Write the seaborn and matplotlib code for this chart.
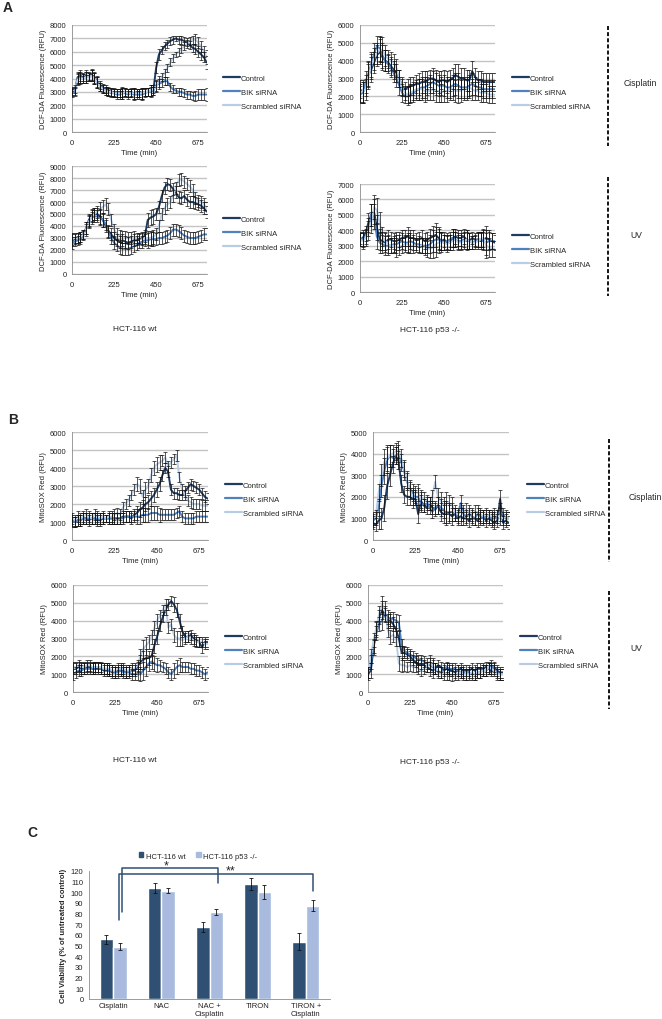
import numpy as np
import pandas as pd
import matplotlib
matplotlib.use('Agg')
import matplotlib.pyplot as plt
import seaborn as sns
from matplotlib.ticker import MultipleLocator
from matplotlib.lines import Line2D
from matplotlib.patches import Patch

W, H = 662, 1020

# sampling times (min), every 15 min
TIME = list(range(0, 721, 15))
SERIES = ['Control', 'BIK siRNA', 'Scrambled siRNA']
COLORS = ['#1f3b60', '#4f81bd', '#b8cce4']

# all kinetics values below are in units of 100 RFU
# A - DCF-DA, HCT-116 wt, cisplatin
a_wt_cis_ctrl = [30, 31, 41, 42, 41, 42, 42, 43, 41, 38, 35, 33, 32, 31, 30, 30, 29, 29, 30, 30,
                 29, 30, 29, 29, 29, 29, 30, 30, 31, 31, 48, 58, 61, 64, 66, 68, 69, 70, 69, 69,
                 68, 67, 65, 63, 62, 60, 58, 56, 52]
a_wt_cis_bik = [29, 30, 40, 41, 40, 41, 41, 42, 40, 37, 34, 32, 31, 30, 29, 29, 28, 28, 29, 29,
                28, 29, 28, 28, 28, 28, 29, 30, 30, 31, 35, 36, 37, 38, 38, 34, 32, 31, 30, 30,
                29, 28, 28, 27, 27, 28, 28, 28, 28]
a_wt_cis_scr = [31, 32, 39, 40, 40, 41, 41, 42, 40, 37, 34, 32, 31, 30, 30, 29, 29, 29, 29, 30,
                29, 29, 29, 29, 29, 29, 30, 30, 31, 32, 34, 38, 41, 44, 48, 52, 55, 58, 60, 62,
                64, 66, 68, 69, 69, 67, 64, 60, 56]
a_wt_cis_err = [3, 3, 4, 4, 3, 4, 3, 4, 4, 4, 3, 3, 3, 3, 3, 3, 3, 3, 4, 3,
                3, 3, 4, 3, 3, 4, 3, 3, 4, 3, 4, 4, 3, 3, 3, 3, 3, 2, 3, 3,
                3, 3, 3, 3, 4, 4, 4, 4, 5]

# A - DCF-DA, HCT-116 p53 -/-, cisplatin
a_ko_cis_ctrl = [24, 22, 26, 32, 35, 39, 43, 45, 42, 40, 39, 37, 35, 33, 30, 26, 24, 25, 26, 26,
                 27, 27, 28, 28, 29, 30, 30, 29, 28, 29, 29, 28, 29, 30, 32, 31, 30, 30, 29, 29,
                 34, 31, 29, 29, 28, 28, 28, 28, 28]
a_ko_cis_bik = [21, 22, 28, 33, 38, 44, 48, 47, 43, 40, 38, 36, 33, 30, 26, 22, 20, 20, 21, 22,
                23, 24, 25, 25, 26, 27, 28, 27, 26, 26, 26, 25, 25, 26, 27, 26, 25, 25, 25, 26,
                27, 26, 25, 25, 24, 24, 24, 24, 24]
a_ko_cis_scr = [22, 23, 24, 31, 37, 41, 44, 46, 46, 43, 41, 40, 39, 36, 30, 25, 22, 21, 22, 23,
                24, 24, 24, 23, 23, 23, 24, 23, 23, 22, 23, 23, 24, 24, 23, 23, 23, 24, 24, 25,
                24, 23, 23, 22, 22, 22, 21, 21, 21]
a_ko_cis_err = [5, 6, 6, 7, 7, 6, 6, 7, 7, 6, 5, 5, 5, 5, 5, 5, 4, 5, 5, 5,
                5, 6, 6, 6, 5, 5, 6, 6, 6, 5, 6, 6, 6, 6, 6, 7, 6, 6, 6, 6,
                6, 5, 5, 5, 5, 5, 5, 5, 5]

# A - DCF-DA, HCT-116 wt, UV
a_wt_uv_ctrl = [28, 29, 30, 31, 33, 38, 45, 49, 50, 50, 48, 45, 40, 36, 33, 30, 28, 27, 28, 27,
                26, 27, 28, 28, 29, 30, 32, 45, 47, 48, 50, 56, 65, 72, 75, 74, 71, 68, 64, 63,
                65, 62, 60, 60, 59, 58, 57, 55, 52]
a_wt_uv_bik = [26, 27, 28, 29, 32, 38, 44, 47, 48, 48, 47, 45, 42, 35, 30, 26, 24, 22, 21, 21,
               21, 22, 23, 24, 26, 27, 28, 28, 29, 29, 29, 30, 30, 31, 32, 34, 37, 37, 36, 34,
               32, 31, 30, 30, 30, 31, 32, 33, 33]
a_wt_uv_scr = [29, 30, 30, 31, 33, 37, 43, 48, 50, 52, 54, 56, 58, 54, 45, 37, 33, 32, 31, 31,
               30, 30, 31, 30, 30, 29, 30, 30, 30, 31, 33, 40, 50, 55, 58, 60, 65, 72, 78, 79,
               77, 75, 73, 70, 63, 61, 60, 58, 55]
a_wt_uv_err = [5, 4, 4, 4, 4, 5, 5, 5, 5, 5, 6, 6, 5, 5, 5, 5, 5, 5, 5, 5,
               5, 5, 5, 4, 4, 5, 5, 6, 6, 6, 5, 5, 5, 5, 5, 5, 5, 5, 5, 5,
               5, 5, 5, 5, 5, 5, 5, 5, 5]

# A - DCF-DA, HCT-116 p53 -/-, UV
a_ko_uv_ctrl = [34, 35, 38, 45, 50, 52, 42, 34, 33, 32, 34, 34, 33, 33, 34, 35, 35, 36, 35, 35,
                34, 34, 35, 33, 34, 35, 36, 37, 35, 33, 34, 32, 32, 35, 36, 35, 35, 36, 34, 33,
                35, 34, 34, 33, 34, 35, 34, 33, 32]
a_ko_uv_bik = [35, 34, 36, 42, 50, 49, 36, 32, 31, 30, 30, 30, 31, 31, 32, 33, 32, 32, 33, 32,
               31, 31, 30, 30, 30, 31, 33, 34, 34, 33, 32, 33, 34, 35, 34, 33, 33, 34, 33, 33,
               32, 33, 34, 34, 33, 32, 33, 33, 33]
a_ko_uv_scr = [34, 33, 35, 40, 45, 55, 53, 45, 36, 33, 31, 30, 30, 29, 29, 30, 31, 31, 30, 30,
               30, 30, 30, 29, 28, 28, 29, 31, 32, 32, 32, 31, 32, 33, 34, 32, 32, 33, 34, 33,
               32, 32, 33, 34, 35, 30, 29, 28, 28]
a_ko_uv_err = [4, 5, 5, 6, 7, 8, 8, 7, 6, 6, 6, 5, 5, 6, 5, 5, 5, 6, 5, 5,
               4, 5, 5, 5, 5, 6, 7, 8, 7, 6, 5, 5, 5, 6, 5, 5, 5, 5, 6, 5,
               4, 4, 5, 5, 6, 8, 6, 5, 5]

# B - MitoSOX Red, HCT-116 wt, cisplatin
b_wt_cis_ctrl = [11, 10, 11, 11, 12, 12, 11, 12, 12, 11, 11, 12, 12, 12, 12, 12, 12, 12, 13, 13,
                 13, 12, 14, 15, 17, 18, 20, 21, 23, 25, 28, 31, 36, 40, 38, 28, 26, 26, 25, 25,
                 27, 29, 31, 30, 29, 28, 26, 24, 23]
b_wt_cis_bik = [10, 10, 11, 11, 12, 12, 12, 12, 12, 12, 12, 12, 12, 12, 12, 12, 12, 12, 12, 13,
                13, 13, 13, 13, 13, 14, 14, 14, 15, 15, 15, 14, 14, 14, 14, 14, 14, 15, 16, 13,
                12, 12, 12, 12, 13, 13, 13, 13, 13]
b_wt_cis_scr = [12, 11, 13, 12, 13, 14, 13, 12, 14, 13, 12, 13, 12, 13, 13, 14, 15, 14, 18, 20,
                22, 25, 28, 31, 30, 24, 28, 30, 36, 40, 42, 43, 44, 46, 41, 43, 45, 47, 35, 28,
                25, 22, 21, 20, 20, 20, 19, 19, 19]
b_wt_cis_err = [3, 3, 3, 3, 3, 3, 3, 3, 3, 3, 3, 3, 2, 3, 3, 3, 3, 3, 3, 3,
                3, 3, 3, 4, 4, 4, 4, 4, 4, 4, 4, 4, 3, 3, 3, 3, 3, 3, 3, 3,
                3, 3, 3, 3, 3, 3, 3, 3, 3]

# B - MitoSOX Red, HCT-116 p53 -/-, cisplatin
b_ko_cis_ctrl = [8, 7, 9, 10, 15, 25, 30, 35, 39, 37, 26, 21, 20, 20, 19, 19, 12, 18, 16, 15,
                 17, 15, 14, 16, 13, 12, 13, 12, 11, 12, 10, 11, 10, 10, 9, 10, 10, 9, 10, 11,
                 9, 10, 9, 8, 9, 19, 8, 9, 8]
b_ko_cis_bik = [9, 10, 15, 25, 32, 37, 39, 38, 39, 40, 36, 32, 27, 24, 22, 20, 20, 17, 16, 17,
                15, 13, 15, 16, 15, 14, 12, 13, 13, 12, 11, 17, 12, 11, 12, 11, 10, 12, 11, 10,
                11, 11, 10, 10, 11, 13, 12, 10, 10]
b_ko_cis_scr = [10, 11, 22, 30, 36, 38, 39, 40, 41, 42, 38, 33, 28, 23, 20, 22, 22, 19, 19, 18,
                17, 20, 27, 20, 18, 16, 17, 17, 16, 13, 12, 13, 13, 14, 13, 12, 13, 13, 12, 11,
                12, 11, 11, 12, 11, 11, 10, 11, 10]
b_ko_cis_err = [3, 3, 4, 5, 6, 6, 5, 4, 4, 4, 4, 4, 4, 4, 4, 3, 4, 4, 3, 3,
                3, 3, 3, 4, 4, 4, 5, 4, 4, 3, 3, 4, 3, 3, 3, 3, 3, 3, 3, 3,
                3, 3, 3, 3, 3, 4, 3, 3, 3]

# B - MitoSOX Red, HCT-116 wt, UV
b_wt_uv_ctrl = [14, 13, 14, 13, 13, 14, 14, 13, 13, 13, 13, 12, 12, 12, 11, 11, 12, 12, 12, 11,
                12, 12, 12, 14, 17, 18, 19, 19, 20, 26, 31, 37, 42, 46, 49, 51, 49, 46, 40, 34,
                31, 31, 32, 30, 29, 28, 25, 28, 28]
b_wt_uv_bik = [10, 11, 12, 12, 13, 13, 13, 13, 14, 14, 13, 13, 13, 12, 12, 11, 11, 12, 11, 11,
               11, 10, 10, 10, 10, 12, 14, 16, 17, 16, 15, 15, 14, 13, 11, 10, 12, 14, 15, 14,
               14, 14, 13, 13, 12, 12, 11, 10, 11]
b_wt_uv_scr = [13, 14, 15, 14, 14, 15, 15, 14, 14, 14, 14, 13, 13, 13, 12, 12, 13, 13, 13, 12,
               12, 13, 13, 15, 20, 24, 26, 28, 31, 36, 40, 43, 46, 49, 36, 38, 32, 30, 30, 29,
               30, 31, 30, 29, 28, 28, 28, 27, 27]
b_wt_uv_err = [3, 3, 3, 3, 3, 3, 3, 3, 3, 3, 3, 3, 3, 3, 3, 3, 3, 3, 3, 3,
               3, 3, 3, 3, 4, 5, 5, 4, 4, 4, 4, 3, 3, 3, 3, 3, 4, 4, 4, 3,
               3, 3, 3, 3, 3, 3, 3, 3, 3]

# B - MitoSOX Red, HCT-116 p53 -/-, UV
b_ko_uv_ctrl = [10, 12, 25, 35, 42, 46, 43, 40, 40, 38, 35, 30, 22, 22, 21, 20, 18, 17, 15, 16,
                15, 14, 13, 12, 13, 15, 14, 12, 13, 12, 12, 11, 12, 13, 12, 12, 12, 13, 12, 13,
                13, 13, 14, 13, 12, 14, 12, 11, 11]
b_ko_uv_bik = [11, 17, 26, 33, 38, 40, 44, 42, 41, 41, 40, 39, 26, 23, 22, 21, 20, 19, 18, 18,
               17, 16, 15, 14, 13, 11, 11, 13, 14, 13, 13, 13, 12, 11, 11, 10, 11, 10, 10, 11,
               11, 12, 12, 13, 15, 13, 11, 10, 10]
b_ko_uv_scr = [11, 20, 29, 36, 44, 49, 47, 35, 31, 32, 30, 16, 15, 15, 14, 15, 14, 14, 13, 12,
               13, 14, 17, 15, 13, 12, 11, 10, 10, 10, 9, 10, 10, 11, 10, 10, 10, 11, 10, 11,
               11, 12, 12, 14, 13, 12, 10, 10, 10]
b_ko_uv_err = [3, 4, 4, 4, 4, 5, 4, 4, 4, 4, 4, 4, 4, 3, 3, 3, 3, 3, 3, 3,
               3, 3, 4, 4, 3, 3, 3, 3, 3, 3, 3, 3, 3, 3, 3, 3, 3, 3, 3, 3,
               3, 3, 3, 3, 3, 3, 3, 3, 3]

# C - cell viability (% of untreated control)
treatments = ['Cisplatin', 'NAC', 'NAC +\nCisplatin', 'TIRON', 'TIRON +\nCisplatin']
cell_lines = ['HCT-116 wt', 'HCT-116 p53 -/-']
wt_viability = [56, 104, 67.5, 107.5, 53.5]
wt_sem = [4, 4.5, 4.5, 5.5, 8]
ko_viability = [49, 101.5, 81.5, 100.5, 87.5]
ko_sem = [3.5, 2.5, 2.5, 6.5, 5]

sns.set_style('white')
plt.rcParams['font.family'] = ['Liberation Sans', 'DejaVu Sans']
FS = 5.5
GRAY = '#8c8c8c'

fig = plt.figure(figsize=(W / 100, H / 100), dpi=100)


def box(l, t, r, b):
    return [l / W, 1 - b / H, (r - l) / W, (b - t) / H]


def time_panel(rect, data, err, ymax, ylabel, leg_x, leg_y):
    ax = fig.add_axes(box(*rect))
    frames = []
    for name, vals in zip(SERIES, data):
        frames.append(pd.DataFrame({'time': TIME, 'rfu': np.array(vals) * 100.0, 'series': name}))
    df = pd.concat(frames, ignore_index=True)
    sns.lineplot(data=df, x='time', y='rfu', hue='series', hue_order=SERIES,
                 palette=COLORS, linewidth=1.4, ax=ax, legend=False, zorder=3)
    for name, vals in zip(SERIES, data):
        ax.errorbar(TIME, np.array(vals) * 100.0, yerr=np.array(err) * 100.0, fmt='none',
                    ecolor='#111111', elinewidth=0.5, capsize=1.4, capthick=0.5, zorder=4)
    ax.set_xlim(0, 722)
    ax.set_ylim(0, ymax)
    ax.set_yticks(range(0, ymax + 1, 1000))
    ax.set_xticks([0, 225, 450, 675])
    ax.xaxis.set_minor_locator(MultipleLocator(15))
    ax.yaxis.grid(True, color='#c4c4c4', linewidth=1.0)
    ax.set_axisbelow(True)
    for s in ['top', 'right']:
        ax.spines[s].set_visible(False)
    for s in ['left', 'bottom']:
        ax.spines[s].set_color(GRAY)
        ax.spines[s].set_linewidth(0.6)
    ax.tick_params(axis='both', labelsize=FS, colors='#222222', pad=2)
    ax.tick_params(axis='y', length=2, color=GRAY, width=0.5)
    ax.tick_params(axis='x', which='major', length=3, color=GRAY, width=0.5)
    ax.tick_params(axis='x', which='minor', length=2, color=GRAY, width=0.4)
    ax.set_xlabel('Time (min)', fontsize=FS, labelpad=2, color='#222222')
    ax.set_ylabel(ylabel, fontsize=FS, labelpad=2, color='#222222')
    handles = [Line2D([], [], color=c, lw=1.6) for c in COLORS]
    ax.legend(handles, SERIES, loc='center left', bbox_to_anchor=(leg_x / W, 1 - leg_y / H),
              bbox_transform=fig.transFigure, frameon=False, fontsize=FS, handlelength=2.2,
              handletextpad=0.1, labelspacing=0.85, borderpad=0, borderaxespad=0)
    return ax


DCF = 'DCF-DA Fluorescence (RFU)'
MITO = 'MitoSOX Red (RFU)'

time_panel((72, 26, 207, 133), [a_wt_cis_ctrl, a_wt_cis_bik, a_wt_cis_scr], a_wt_cis_err,
           8000, DCF, 223, 93)
time_panel((360, 26, 495, 133), [a_ko_cis_ctrl, a_ko_cis_bik, a_ko_cis_scr], a_ko_cis_err,
           6000, DCF, 512, 93)
time_panel((72, 167, 207, 275), [a_wt_uv_ctrl, a_wt_uv_bik, a_wt_uv_scr], a_wt_uv_err,
           9000, DCF, 223, 234)
time_panel((360, 185, 495, 293), [a_ko_uv_ctrl, a_ko_uv_bik, a_ko_uv_scr], a_ko_uv_err,
           7000, DCF, 512, 251)
time_panel((72, 433, 208, 541), [b_wt_cis_ctrl, b_wt_cis_bik, b_wt_cis_scr], b_wt_cis_err,
           6000, MITO, 225, 500)
time_panel((373, 433, 509, 541), [b_ko_cis_ctrl, b_ko_cis_bik, b_ko_cis_scr], b_ko_cis_err,
           5000, MITO, 527, 500)
time_panel((73, 586, 208, 693), [b_wt_uv_ctrl, b_wt_uv_bik, b_wt_uv_scr], b_wt_uv_err,
           6000, MITO, 225, 652)
time_panel((368, 586, 503, 693), [b_ko_uv_ctrl, b_ko_uv_bik, b_ko_uv_scr], b_ko_uv_err,
           6000, MITO, 520, 652)


def ftext(x, y, s, **kw):
    fig.text(x / W, 1 - y / H, s, **kw)


def vdash(x, y0, y1):
    fig.add_artist(Line2D([x / W, x / W], [1 - y0 / H, 1 - y1 / H], transform=fig.transFigure,
                          color='black', lw=1.3, ls=(0, (2.2, 1.2))))


ftext(3, 8, 'A', fontsize=10, fontweight='bold', va='center')
ftext(8, 420, 'B', fontsize=10, fontweight='bold', va='center')
ftext(27, 833, 'C', fontsize=10, fontweight='bold', va='center')

vdash(608, 27, 147)
vdash(608, 178, 297)
vdash(609, 440, 563)
vdash(609, 592, 710)
ftext(640, 84, 'Cisplatin', fontsize=6.2, ha='center', va='center')
ftext(636, 236, 'UV', fontsize=6.2, ha='center', va='center')
ftext(645, 498, 'Cisplatin', fontsize=6.2, ha='center', va='center')
ftext(636, 649, 'UV', fontsize=6.2, ha='center', va='center')

ftext(135, 330, 'HCT-116 wt', fontsize=6, ha='center', va='center')
ftext(430, 331, 'HCT-116 p53 -/-', fontsize=6, ha='center', va='center')
ftext(135, 760, 'HCT-116 wt', fontsize=6, ha='center', va='center')
ftext(430, 762, 'HCT-116 p53 -/-', fontsize=6, ha='center', va='center')

# C - bar chart
BAR_COLORS = ['#2f5073', '#a8bbde']
bar_df = pd.DataFrame({
    'treatment': treatments * 2,
    'line': [cell_lines[0]] * 5 + [cell_lines[1]] * 5,
    'viability': wt_viability + ko_viability,
})
axc = fig.add_axes(box(89, 872, 330, 1000))
sns.barplot(data=bar_df, x='treatment', y='viability', hue='line', hue_order=cell_lines,
            palette=BAR_COLORS, width=0.56, errorbar=None, saturation=1, ax=axc, legend=False)
for cont, errs in zip(axc.containers, [wt_sem, ko_sem]):
    xs = [p.get_x() + p.get_width() / 2 for p in cont]
    ys = [p.get_height() for p in cont]
    axc.errorbar(xs, ys, yerr=errs, fmt='none', ecolor='#111111', elinewidth=0.6,
                 capsize=1.6, capthick=0.6)
axc.set_xlim(-0.5, 4.5)
axc.set_ylim(0, 120)
axc.set_yticks(range(0, 121, 10))
axc.set_xlabel('')
axc.set_ylabel('Cell Viability (% of untreated control)', fontsize=FS, fontweight='bold',
               labelpad=3)
for s in ['top', 'right']:
    axc.spines[s].set_visible(False)
for s in ['left', 'bottom']:
    axc.spines[s].set_color(GRAY)
    axc.spines[s].set_linewidth(0.6)
axc.tick_params(axis='both', labelsize=FS, colors='#222222', pad=2)
axc.tick_params(axis='y', length=2, color=GRAY, width=0.5)
axc.tick_params(axis='x', which='major', length=0)
axc.set_xticks([i + 0.5 for i in range(-1, 5)], minor=True)
axc.tick_params(axis='x', which='minor', length=2.5, color=GRAY, width=0.5)

# significance brackets
BR = '#2f5073'
axc.plot([0.18, 0.18, 2.17, 2.17], [82, 122.8, 122.8, 108.5], color=BR, lw=1.1,
         clip_on=False)
axc.plot([0.13, 0.13, 4.15, 4.15], [74, 117.2, 117.2, 101], color=BR, lw=1.1,
         clip_on=False)
axc.text(1.11, 125.5, '*', fontsize=9, ha='center', va='center')
axc.text(2.43, 120.5, '**', fontsize=9, ha='center', va='center')

leg_handles = [Patch(color=c) for c in BAR_COLORS]
axc.legend(leg_handles, cell_lines, loc='center', bbox_to_anchor=(198 / W, 1 - 857 / H),
           bbox_transform=fig.transFigure, ncol=2, frameon=False, fontsize=FS,
           handlelength=0.6, handleheight=0.6, handletextpad=0.3, columnspacing=1.4,
           borderpad=0, borderaxespad=0)

fig.savefig('out.png', dpi=100)
